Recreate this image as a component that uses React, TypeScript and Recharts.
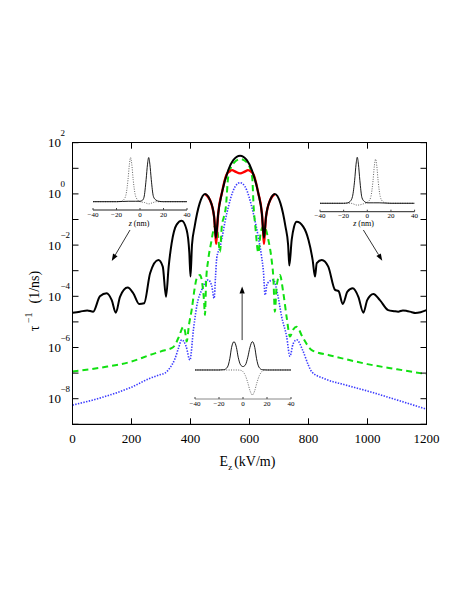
import React from "react";
import { LineChart, Line, XAxis, YAxis, ReferenceLine } from "recharts";

const FONT = "'Liberation Serif', 'Times New Roman', serif";

// chart box
const CHART_W = 463, CHART_H = 599;
const MARGIN = { top: 142.7, left: 32.5, right: 36.5, bottom: 173.7 };
const Y_AXIS_W = 40, X_AXIS_H = 1;
const PLOT_LEFT = MARGIN.left + Y_AXIS_W;
const PLOT_TOP = MARGIN.top;
const PLOT_RIGHT = CHART_W - MARGIN.right;
const PLOT_BOTTOM = CHART_H - MARGIN.bottom - X_AXIS_H;
const TICK = 6;

// main axes
const X_TICKS = [0, 200, 400, 600, 800, 1000, 1200];
const Y_POWERS = [-9, -8, -7, -6, -5, -4, -3, -2, -1, 0, 1, 2];
const Y_TICKS = Y_POWERS.map((p) => Math.pow(10, p));
const X_MIN = 0, X_MAX = 1200;
const Y_MIN = 1e-9, Y_MAX = 1e2;

// [E_z (kV/m), log10(1/tau)]
const black: [number, number][] = [
  [0, -4.64], [25, -4.6], [50, -4.55], [70, -4.6], [93, -4.0], [116, -3.88], [133, -4.15], [147, -4.64],
  [161, -4.02], [187, -3.66], [206, -3.88], [226, -4.3], [243, -4.27], [263, -3.1], [291, -2.58], [306, -2.84],
  [317, -4.02], [326, -2.84], [336, -1.93], [353, -1.2], [370, -1.05], [387, -1.41], [396, -2.3], [400, -3.23],
  [405, -2.0], [414, -1.28], [431, -0.37], [449, 0.0], [466, -0.24], [480, -0.89], [486, -1.72], [494, -0.76],
  [506, 0.02], [528, 0.93], [545, 1.32], [568, 1.49], [591, 1.32], [608, 0.93], [630, 0.02], [642, -0.76],
  [649, -1.72], [656, -0.89], [670, -0.24], [686, 0.0], [705, -0.37], [722, -1.28], [731, -2.0], [735, -2.8],
  [743, -1.8], [751, -1.28], [760, -1.09], [782, -1.28], [800, -1.8], [814, -2.58], [822, -3.23], [828, -2.7],
  [845, -2.58], [867, -2.84], [890, -3.75], [902, -3.8], [916, -4.3], [932, -3.82], [950, -3.69], [969, -4.02],
  [986, -4.64], [999, -4.15], [1020, -3.91], [1042, -4.15], [1070, -4.54], [1090, -4.58], [1104, -4.6],
  [1120, -4.55], [1133, -4.57], [1150, -4.62], [1162, -4.65], [1180, -4.62], [1200, -4.54],
];

const red: [number, number][] = [
  [449, 0.0], [466, -0.24], [480, -0.89], [484, -1.5], [487, -1.95], [490, -1.4], [494, -0.76], [506, 0.02],
  [522, 0.75], [532, 0.88], [541, 0.93], [552, 0.87], [568, 0.8], [584, 0.87], [595, 0.93], [604, 0.88],
  [614, 0.75], [630, 0.02], [642, -0.76], [646, -1.4], [649, -1.95], [652, -1.5], [656, -0.89], [670, -0.24],
  [686, 0.0],
];

const green: [number, number][] = [
  [0, -6.94], [100, -6.78], [200, -6.55], [263, -6.29], [300, -6.15], [342, -5.98], [360, -5.6], [376, -5.19],
  [382, -5.4], [387, -5.77], [395, -5.1], [404, -4.53], [414, -3.7], [421, -3.3], [432, -3.17], [441, -3.6],
  [446, -4.2], [449, -4.73], [453, -3.4], [460, -2.58], [470, -1.9], [477, -1.45], [485, -1.22], [492, -1.5],
  [500, -2.26], [506, -1.28], [513, -0.9], [520, -0.5], [528, 0.67], [548, 1.22], [570, 1.36], [592, 1.22],
  [609, 0.67], [614, -0.5], [620, -1.3], [630, -2.3], [638, -1.5], [648, -1.25], [656, -1.4], [664, -1.8],
  [675, -2.58], [681, -3.3], [686, -4.6], [692, -3.6], [703, -3.17], [715, -3.9], [727, -4.9], [737, -5.57],
  [748, -5.3], [760, -5.19], [780, -5.6], [811, -6.1], [870, -6.3], [924, -6.45], [1000, -6.65], [1100, -6.85],
  [1200, -7.04],
];

const blue: [number, number][] = [
  [0, -8.25], [100, -7.95], [200, -7.55], [263, -7.2], [300, -7.05], [313, -7.0], [330, -6.8], [347, -6.45],
  [360, -6.0], [370, -5.7], [385, -5.95], [398, -6.49], [410, -5.3], [421, -4.4], [438, -3.75], [460, -3.36],
  [472, -3.6], [480, -4.08], [485, -3.2], [489, -2.5], [500, -2.08], [523, -0.76], [551, 0.28], [568, 0.44],
  [585, 0.28], [613, -0.76], [630, -1.7], [641, -2.45], [647, -3.0], [653, -3.95], [660, -3.5], [681, -3.36],
  [695, -3.9], [709, -4.8], [726, -5.58], [737, -6.34], [748, -5.85], [760, -5.7], [780, -6.1], [800, -6.7],
  [811, -6.95], [850, -7.2], [924, -7.46], [1000, -7.7], [1100, -8.05], [1200, -8.41],
];

// arrows: [from, to] in (E, log10)
const arrows: [[number, number], [number, number]][] = [
  [[195, -1.41], [133, -2.62]],
  [[986, -1.41], [1050, -2.61]],
  [[575, -5.71], [575, -3.62]],
];

// insets: z (nm) vs amplitude
const Z_TICKS = [-40, -20, 0, 20, 40];

const inset1Solid: [number, number][] = [
  [-40, 0], [-20, 0], [-10, 0.01], [-4, 0.01], [0, 0.01], [2, 0.03], [3.4, 0.1], [5.2, 0.5], [6.4, 0.85],
  [7.4, 1.0], [8.4, 0.85], [9.6, 0.5], [11.4, 0.12], [13.4, 0.04], [16, 0.01], [20, 0], [40, 0],
];
const inset1Dotted: [number, number][] = [
  [-40, 0], [-20, 0], [-16, 0.01], [-14, 0.04], [-12, 0.15], [-10.2, 0.5], [-9, 0.85], [-8, 1.0], [-7, 0.85],
  [-5.8, 0.5], [-4, 0.15], [-2, 0.04], [0, 0.0], [4, -0.02], [7.4, -0.05], [11, -0.02], [14, 0], [40, 0],
];

const inset2Solid: [number, number][] = [
  [-40, 0], [-20, 0], [-16.5, 0.01], [-14.5, 0.04], [-12.5, 0.15], [-10.7, 0.5], [-9.5, 0.85], [-8.5, 1.0],
  [-7.5, 0.85], [-6.3, 0.5], [-4.5, 0.12], [-2.5, 0.04], [0, 0.01], [5, 0.01], [10, 0.01], [20, 0], [40, 0],
];
const inset2Dotted: [number, number][] = [
  [-40, 0], [-14, 0], [-8.5, -0.04], [-3, -0.01], [-1, 0.01], [1, 0.04], [3, 0.14], [4.8, 0.48], [6, 0.82],
  [7, 0.96], [8, 0.82], [9.2, 0.48], [11, 0.14], [13, 0.04], [15, 0.01], [20, 0], [40, 0],
];

const inset3Solid: [number, number][] = [
  [-40, 0], [-20, 0], [-16, 0.01], [-13, 0.1], [-11, 0.4], [-9.5, 0.8], [-7.5, 1.0], [-5.5, 0.8], [-4, 0.45],
  [-2, 0.18], [0, 0.12], [2, 0.18], [4, 0.45], [5.8, 0.8], [7.8, 1.0], [9.8, 0.8], [11.3, 0.4], [13.3, 0.1],
  [16, 0.01], [20, 0], [40, 0],
];
const inset3Dotted: [number, number][] = [
  [-40, 0], [-5, 0], [-2, -0.01], [0, -0.06], [2, -0.2], [4, -0.45], [6, -0.75], [7.8, -0.88], [9.6, -0.75],
  [11.6, -0.45], [13.6, -0.2], [15.6, -0.06], [18, -0.01], [20, 0], [40, 0],
];

const toPts = (arr: [number, number][]) => arr.map(([e, l]) => ({ e, v: Math.pow(10, l) }));
const toZ = (arr: [number, number][]) => arr.map(([z, v]) => ({ z, v }));

const sup = (p: number) => (p < 0 ? "\u2212" + Math.abs(p) : String(p));

// left axis tick: inward ticks on the left and right frame edges, label on even decades
const LeftTick = (props: any) => {
  const { x, y, payload } = props;
  const p = Math.round(Math.log10(payload.value));
  return (
    <g>
      <line x1={x} x2={x + TICK} y1={y} y2={y} stroke="#000" />
      <line x1={PLOT_RIGHT - TICK} x2={PLOT_RIGHT} y1={y} y2={y} stroke="#000" />
      {p % 2 === 0 && (
        <g fontFamily={FONT} fill="#000">
          <text x={x - 11.5} y={y} textAnchor="end" dominantBaseline="central" fontSize={13}>10</text>
          <text x={x - 12} y={y - 10} textAnchor="start" dominantBaseline="central" fontSize={9}>{sup(p)}</text>
        </g>
      )}
    </g>
  );
};

// bottom axis tick: inward ticks on the bottom and top frame edges, and the label
const BottomTick = (props: any) => {
  const { x, y, payload } = props;
  return (
    <g>
      <line x1={x} x2={x} y1={y} y2={y - TICK} stroke="#000" />
      <line x1={x} x2={x} y1={PLOT_TOP} y2={PLOT_TOP + TICK} stroke="#000" />
      <text x={x} y={y + 14} textAnchor="middle" dominantBaseline="central" fontSize={13} fontFamily={FONT} fill="#000">
        {payload.value}
      </text>
    </g>
  );
};

const InsetTick = (props: any) => {
  const { x, y, payload } = props;
  const v = payload.value as number;
  return (
    <g>
      <line x1={x} x2={x} y1={y} y2={y - 2} stroke="#444" />
      <text x={x} y={y + 4.5} textAnchor="middle" dominantBaseline="central" fontSize={7} fontFamily={FONT} fill="#000">
        {v < 0 ? "\u2212" + Math.abs(v) : v}
      </text>
    </g>
  );
};

const Arrow = (props: any) => {
  const { x1, y1, x2, y2 } = props;
  const a = Math.atan2(y2 - y1, x2 - x1);
  const L = 7, W = 2.6;
  const bx = x2 - L * Math.cos(a), by = y2 - L * Math.sin(a);
  const nx = -Math.sin(a) * W, ny = Math.cos(a) * W;
  return (
    <g>
      <line x1={x1} y1={y1} x2={bx} y2={by} stroke="#000" strokeWidth={0.8} />
      <polygon points={`${x2},${y2} ${bx + nx},${by + ny} ${bx - nx},${by - ny}`} fill="#000" />
    </g>
  );
};

function Inset({ box, yDomain, solid, dotted, axisColor }: {
  box: [number, number, number, number];
  yDomain: [number, number];
  solid: [number, number][];
  dotted: [number, number][];
  axisColor: string;
}) {
  const [px, py, pw, ph] = box;
  const ml = 12, mr = 12, mt = 2, axisH = 14;
  return (
    <div style={{ position: "absolute", left: px - ml, top: py - mt }}>
      <LineChart width={pw + ml + mr} height={ph + mt + axisH} margin={{ top: mt, left: ml, right: mr, bottom: 0 }}>
        <XAxis
          dataKey="z"
          type="number"
          domain={[-40, 40]}
          ticks={Z_TICKS}
          interval={0}
          height={axisH}
          tickSize={0}
          tickMargin={0}
          axisLine={{ stroke: axisColor }}
          tick={<InsetTick />}
          allowDataOverflow
        />
        <YAxis hide domain={yDomain} allowDataOverflow />
        <Line data={toZ(dotted)} dataKey="v" type="monotone" stroke="#555" strokeWidth={0.9} strokeDasharray="1 1.4" dot={false} activeDot={false} isAnimationActive={false} />
        <Line data={toZ(solid)} dataKey="v" type="monotone" stroke="#000" strokeWidth={0.9} dot={false} activeDot={false} isAnimationActive={false} />
      </LineChart>
    </div>
  );
}

export default function App() {
  return (
    <div style={{ position: "absolute", left: 0, top: 0, width: CHART_W, height: CHART_H, background: "#fff", fontFamily: FONT }}>
      <LineChart width={CHART_W} height={CHART_H} margin={MARGIN}>
        <XAxis
          dataKey="e"
          type="number"
          domain={[X_MIN, X_MAX]}
          ticks={X_TICKS}
          interval={0}
          height={X_AXIS_H}
          tickSize={0}
          tickMargin={0}
          axisLine={{ stroke: "#000" }}
          tick={<BottomTick />}
          allowDataOverflow
        />
        <YAxis
          type="number"
          scale="log"
          domain={[Y_MIN, Y_MAX]}
          ticks={Y_TICKS}
          interval={0}
          width={Y_AXIS_W}
          tickSize={0}
          tickMargin={0}
          axisLine={{ stroke: "#000" }}
          tick={<LeftTick />}
          allowDataOverflow
        />
        <Line data={toPts(blue)} dataKey="v" type="monotone" stroke="#3a3aff" strokeWidth={1.6} strokeDasharray="1.4 1.4" dot={false} activeDot={false} isAnimationActive={false} />
        <Line data={toPts(green)} dataKey="v" type="monotone" stroke="#11e011" strokeWidth={2} strokeDasharray="6 4" dot={false} activeDot={false} isAnimationActive={false} />
        <Line data={toPts(red)} dataKey="v" type="monotone" stroke="#ff0000" strokeWidth={2.4} dot={false} activeDot={false} isAnimationActive={false} />
        <Line data={toPts(black)} dataKey="v" type="monotone" stroke="#000" strokeWidth={2} dot={false} activeDot={false} isAnimationActive={false} />
        {arrows.map(([a, b], i) => (
          <ReferenceLine
            key={"ar" + i}
            segment={[{ x: a[0], y: Math.pow(10, a[1]) }, { x: b[0], y: Math.pow(10, b[1]) }]}
            shape={<Arrow />}
          />
        ))}
      </LineChart>

      {/* plot frame (top and right edges complete the box around the plot area) */}
      <div
        style={{
          position: "absolute",
          left: PLOT_LEFT - 0.5,
          top: PLOT_TOP - 0.5,
          width: PLOT_RIGHT - PLOT_LEFT + 1,
          height: PLOT_BOTTOM - PLOT_TOP + 1,
          border: "1px solid #000",
          boxSizing: "border-box",
          pointerEvents: "none",
        }}
      />

      <Inset box={[93.3, 155, 94, 55]} yDomain={[-0.188, 1.057]} solid={inset1Solid} dotted={inset1Dotted} axisColor="#222" />
      <Inset box={[319.7, 155, 94.6, 56.7]} yDomain={[-0.183, 1.05]} solid={inset2Solid} dotted={inset2Dotted} axisColor="#222" />
      <Inset box={[195, 338, 96, 61]} yDomain={[-1.025, 1.13]} solid={inset3Solid} dotted={inset3Dotted} axisColor="#888" />

      <svg width={CHART_W} height={CHART_H} style={{ position: "absolute", left: 0, top: 0, pointerEvents: "none" }} fontFamily={FONT}>
        <text transform="rotate(-90 34 301)" x={34} y={301} textAnchor="middle" dominantBaseline="central" fontSize={14} fill="#000">
          <tspan>τ</tspan>
          <tspan dy={-6} fontSize={10}> −1</tspan>
          <tspan dy={6} dx={9}>(1/ns)</tspan>
        </text>
        <text x={247.5} y={466} textAnchor="middle" fontSize={14} fill="#000">
          <tspan>E</tspan>
          <tspan dy={4} fontSize={9}>z</tspan>
          <tspan dy={-4} dx={2}>(kV/m)</tspan>
        </text>
        <text x={139} y={226} textAnchor="middle" fontSize={8} fill="#000">
          <tspan fontStyle="italic">z</tspan> (nm)
        </text>
        <text x={363.5} y={226} textAnchor="middle" fontSize={8} fill="#000">
          <tspan fontStyle="italic">z</tspan> (nm)
        </text>
      </svg>
    </div>
  );
}
